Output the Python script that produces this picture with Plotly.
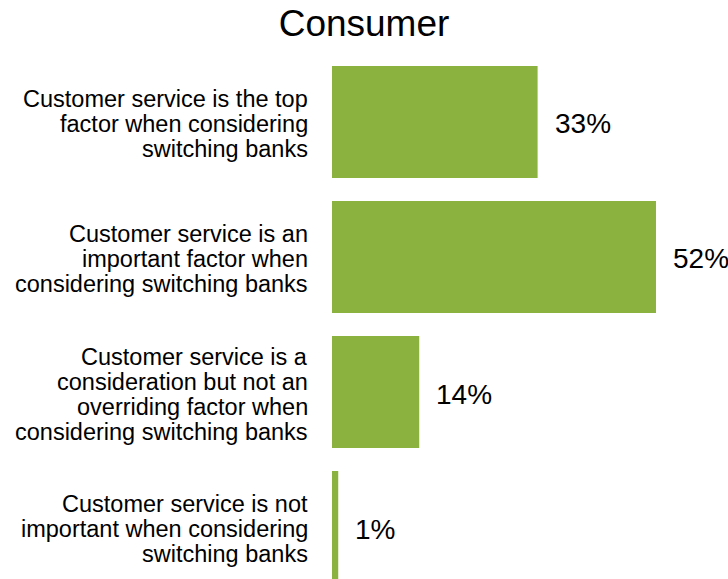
import plotly.graph_objects as go

# Survey results: share of consumers for each statement
categories = [
    "Customer service is the top<br>factor when considering<br>switching banks",
    "Customer service is an<br>important factor when<br>considering switching banks",
    "Customer service is a<br>consideration but not an<br>overriding factor when<br>considering switching banks",
    "Customer service is not<br>important when considering<br>switching banks",
]
values = [33, 52, 14, 1]
value_labels = ["33%", "52%", "14%", "1%"]
title_text = "Consumer"

BAR_COLOR = "#8BB13E"
FONT = "Liberation Sans, Arial, sans-serif"
LINE_STEP = 25  # px between category label lines

fig = go.Figure(
    go.Bar(
        x=values,
        y=list(range(len(categories))),
        orientation="h",
        marker=dict(color=BAR_COLOR, line=dict(width=0)),
        width=0.83,
        hoverinfo="skip",
    )
)

# value labels to the right of each bar
for i, (v, lab) in enumerate(zip(values, value_labels)):
    fig.add_annotation(
        x=v, y=i, xref="x", yref="y",
        text=lab, showarrow=False,
        xanchor="left", yanchor="middle",
        xshift=15, yshift=-2,
        font=dict(family=FONT, size=28, color="#000000"),
    )

# category labels, right-aligned against the bars, one annotation per line
for i, cat in enumerate(categories):
    lines = cat.split("<br>")
    n = len(lines)
    for k, line in enumerate(lines):
        offset = (k - (n - 1) / 2) * LINE_STEP
        fig.add_annotation(
            x=0, y=i, xref="paper", yref="y",
            text=line, showarrow=False,
            xanchor="right", yanchor="middle", align="right",
            xshift=-22, yshift=-offset - 2,
            font=dict(family=FONT, size=23.5, color="#000000"),
        )

fig.update_layout(
    width=728, height=579,
    margin=dict(l=332, r=0, t=55, b=0),
    paper_bgcolor="white", plot_bgcolor="white",
    showlegend=False,
    title=dict(
        text=title_text, x=0.5, xref="container", xanchor="center",
        y=0.983, yanchor="top",
        font=dict(family=FONT, size=37, color="#000000"),
    ),
    xaxis=dict(range=[0, 63.56], visible=False, fixedrange=True),
    yaxis=dict(range=[3.385, -0.496], visible=False, fixedrange=True),
)

fig.write_html("out.html")
